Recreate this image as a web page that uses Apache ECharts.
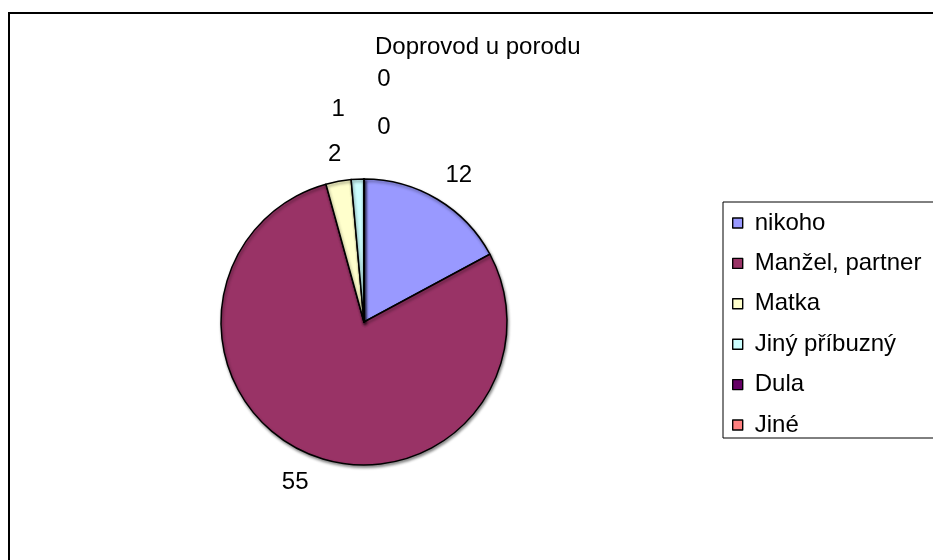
<!DOCTYPE html>
<html>
<head>
<meta charset="utf-8">
<script src="https://cdn.jsdelivr.net/npm/echarts@6/dist/echarts.min.js"></script>
<style>
  html, body { margin: 0; padding: 0; background: #ffffff; }
  #chart { width: 933px; height: 560px; }
</style>
</head>
<body>
<div id="chart"></div>
<script>
// Who accompanied the mother during childbirth
const chartTitle = 'Doprovod u porodu';
const categories = ['nikoho', 'Manžel, partner', 'Matka', 'Jiný příbuzný', 'Dula', 'Jiné'];
const counts = [12, 55, 2, 1, 0, 0];
const sliceColors = ['#9999FF', '#993366', '#FFFFCC', '#CCFFFF', '#660066', '#FF8080'];
// small shifts that keep the crowded labels near 12 o'clock apart
const labelShift = [[5, 4], [0, -1], [2, 5], [-18, -38], [20, -20], [20, -68]];

const FONT = "'Liberation Sans', Arial, sans-serif";
const CENTER = [364, 322];

const pieData = categories.map((name, i) => ({
  name: name,
  value: counts[i],
  itemStyle: { color: sliceColors[i] }
}));

// label ring: an invisible annulus whose 'inside' labels sit just outside the pie
const labelData = categories.map((name, i) => ({
  name: name,
  value: counts[i],
  label: { offset: labelShift[i] }
}));

const chart = echarts.init(document.getElementById('chart'), null, { renderer: 'canvas' });
chart.setOption({
  backgroundColor: '#ffffff',
  animation: false,
  title: {
    text: chartTitle,
    left: 375,
    top: 35,
    padding: 0,
    textStyle: { fontFamily: FONT, fontSize: 24, fontWeight: 'normal', color: '#000', lineHeight: 24 }
  },
  legend: {
    orient: 'vertical',
    left: 723,
    top: 202,
    padding: [9, 40, 1, 9],
    itemGap: 16.4,
    itemWidth: 10,
    itemHeight: 10,
    icon: 'rect',
    borderColor: '#000',
    borderWidth: 1,
    data: categories,
    itemStyle: { borderColor: '#000', borderWidth: 1.4 },
    textStyle: { fontFamily: FONT, fontSize: 24, color: '#000', lineHeight: 24, padding: [0, 0, 0, 7] }
  },
  graphic: [{
    type: 'rect',
    shape: { x: 9, y: 13, width: 1200, height: 1000 },
    style: { fill: 'none', stroke: '#000', lineWidth: 2 },
    silent: true
  }],
  series: [
    {
      type: 'pie',
      center: CENTER,
      radius: 143,
      startAngle: 90,
      clockwise: true,
      avoidLabelOverlap: false,
      label: { show: false },
      labelLine: { show: false },
      emphasis: { disabled: true },
      itemStyle: {
        borderColor: '#000',
        borderWidth: 1.5,
        shadowColor: 'rgba(0,0,0,0.45)',
        shadowBlur: 3,
        shadowOffsetX: 1,
        shadowOffsetY: 2
      },
      data: pieData
    },
    {
      type: 'pie',
      center: CENTER,
      radius: [155, 189],
      startAngle: 90,
      clockwise: true,
      silent: true,
      avoidLabelOverlap: false,
      itemStyle: { color: 'rgba(0,0,0,0)', borderWidth: 0 },
      emphasis: { disabled: true },
      labelLine: { show: false },
      label: {
        show: true,
        position: 'inside',
        formatter: '{c}',
        fontFamily: FONT,
        fontSize: 24,
        color: '#000'
      },
      data: labelData
    }
  ]
});
</script>
</body>
</html>
